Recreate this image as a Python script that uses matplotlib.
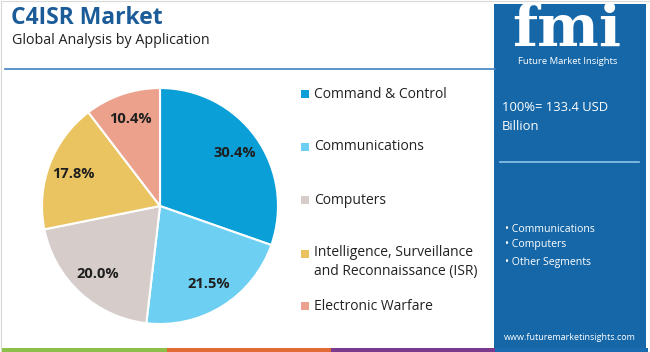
import matplotlib.pyplot as plt
from matplotlib.patches import Rectangle

# data
segments = ['Command & Control', 'Communications', 'Computers',
            'Intelligence, Surveillance\nand Reconnaissance (ISR)', 'Electronic Warfare']
shares = [30.4, 21.5, 20.0, 17.8, 10.4]
colors = ['#0b9fd8', '#6dcff1', '#d6cdca', '#ebc462', '#eba18b']
panel_bullets = ['Communications', 'Computers', 'Other Segments']
total_text = '100%= 133.4 USD\nBillion'

W, H = 650, 352
fig = plt.figure(figsize=(6.5, 3.52), dpi=100)
fig.patch.set_facecolor('white')

# background overlay in pixel coords
bg = fig.add_axes([0, 0, 1, 1])
bg.set_xlim(0, W)
bg.set_ylim(H, 0)
bg.axis('off')

bg.add_patch(Rectangle((0.5, 0.5), W - 1, H - 1, fill=False, ec='#d8d8d8', lw=0.8))
bg.text(11, 18, 'C4ISR Market', fontsize=16.5, fontweight='bold', color='#1b5c98',
        family='Open Sans', va='center')
bg.text(12, 40, 'Global Analysis by Application', fontsize=10.3, color='#222222',
        family='Open Sans', va='center')
bg.plot([5, 495], [69, 69], color='#3f82c2', lw=1.2)

# bottom colour strip
for x0, x1, c in [(2, 167, '#8cc04b'), (167, 331, '#e06b36'),
                  (331, 495, '#7b3a8e'), (495, 648, '#1b6bb0')]:
    bg.add_patch(Rectangle((x0, 348), x1 - x0, 4, color=c, lw=0))

# right panel
bg.add_patch(Rectangle((494, 4), 152, 344, color='#1567a8', lw=0))
bg.text(567, 30, 'fmi', fontsize=42, fontweight='bold', color='white',
        family='DejaVu Serif', ha='center', va='center')
bg.text(568, 61, 'Future Market Insights', fontsize=6.8, color='white',
        family='Open Sans', ha='center', va='center')
bg.text(502, 117, total_text, fontsize=9.4, color='white', family='Open Sans',
        va='center', linespacing=1.6)
bg.plot([500, 639], [162, 162], color='#8ec6ea', lw=1.2)
for i, t in enumerate(panel_bullets):
    bg.text(505, 229 + i * 15.5 + (2 if i == 2 else 0), '\u2022 ' + t, fontsize=7.6,
            color='white', family='Open Sans', va='center')
bg.text(570, 337, 'www.futuremarketinsights.com', fontsize=6.5, color='white',
        family='Open Sans', ha='center', va='center')

# legend
leg_y = [94, 147, 200, 262, 306]
for y, lab, c in zip(leg_y, segments, colors):
    sq_y = y if '\n' not in lab else y - 8.5
    bg.add_patch(Rectangle((301, sq_y - 4), 8, 8, color=c, lw=0))
    bg.text(314, y, lab, fontsize=10, color='#222222', family='Open Sans',
            va='center', linespacing=1.35)

# pie
cx, cy, r = 160, 206, 118
ax = fig.add_axes([(cx - r) / W, 1 - (cy + r) / H, 2 * r / W, 2 * r / H])
wedges, texts, autotexts = ax.pie(
    shares, colors=colors, startangle=90, counterclock=False,
    autopct='%.1f%%', pctdistance=0.78,
    wedgeprops=dict(edgecolor='white', linewidth=1.5),
    textprops=dict(fontsize=10.5, fontweight='bold', color='#1e1e1e', family='Open Sans'))
ax.set_xlim(-1, 1)
ax.set_ylim(-1, 1)
ax.set_aspect('equal')

fig.savefig('out.png', dpi=100)
